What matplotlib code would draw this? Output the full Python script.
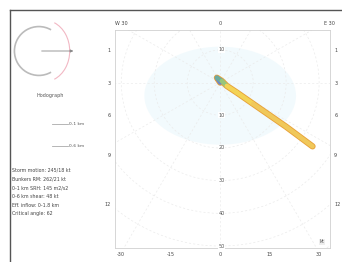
import numpy as np
import matplotlib
matplotlib.use("Agg")
import matplotlib.pyplot as plt
from matplotlib.collections import LineCollection
from matplotlib.patches import Circle, Arc, FancyArrowPatch, Ellipse

# ---- data ----
u_wind = [0.0, -1.0, 0.5, 2.0, 5.0, 10.0, 15.0, 20.0, 24.0, 28.0]
v_wind = [0.0, 1.5, 0.5, -1.0, -3.0, -6.5, -10.0, -13.5, -16.5, -19.5]
heights_km = [0, 0.5, 1, 1.5, 2, 3, 4, 6, 8, 10]
ring_values = [10, -10, -20, -30, -40, -50]
x_ticks = [-30, -15, 0, 15, 30]
x_tick_labels = ["-30", "-15", "0", "15", "30"]
top_ticks = [-30, 0, 33]
top_tick_labels = ["W 30", "0", "E 30"]
side_ticks = [10, 0, -10, -22, -37]
side_tick_labels = ["1", "3", "6", "9", "12"]
info_lines = [
    "Storm motion: 245/18 kt",
    "Bunkers RM: 262/21 kt",
    "0-1 km SRH: 145 m2/s2",
    "0-6 km shear: 48 kt",
    "Eff. inflow: 0-1.8 km",
    "Critical angle: 62",
]
legend_labels = ["0-1 km", "0-6 km"]

fig = plt.figure(figsize=(3.42, 2.62), dpi=100)
fig.patch.set_facecolor("white")

# background frame (left and top border lines)
bg = fig.add_axes([10/342, 0, 1 - 10/342, 252/262])
bg.set_xticks([]); bg.set_yticks([])
for s in ["right", "bottom"]:
    bg.spines[s].set_visible(False)
for s in ["left", "top"]:
    bg.spines[s].set_color("#555555")
    bg.spines[s].set_linewidth(1.0)
bg.set_zorder(-5)
bg.patch.set_alpha(0)

# ---- main hodograph axes ----
ax = fig.add_axes([115/342, 1 - 248/262, 215/342, 218/262])
ax.set_xlim(-31.9, 33.3)
ax.set_ylim(-50.6, 16.1)
ax.set_facecolor("white")
for s in ax.spines.values():
    s.set_color("#d0d0d0")
    s.set_linewidth(0.6)

# faint shaded region
ax.add_patch(Ellipse((0, -4), 46, 30, facecolor="#d6f0fa", edgecolor="none", alpha=0.3, zorder=0))
# range rings
for r in range(10, 90, 10):
    ax.add_patch(Circle((0, 0), r, facecolor="none", edgecolor="#ebebeb",
                        linewidth=0.5, linestyle=(0, (3, 3)), zorder=1))
# radial lines
for ang in range(0, 360, 30):
    a = np.deg2rad(ang)
    ax.plot([0, 90*np.cos(a)], [0, 90*np.sin(a)], color="#ebebeb",
            linewidth=0.5, linestyle=(0, (3, 3)), zorder=1)

# ring labels along the vertical through the center
for r in ring_values:
    ax.text(0.5, r, str(abs(r)), fontsize=3.5, color="#555555",
            ha="center", va="center", zorder=3,
            bbox=dict(facecolor="white", edgecolor="none", pad=0.3))

# trace coloured by height
pts = np.column_stack([u_wind, v_wind])
segs = np.stack([pts[:-1], pts[1:]], axis=1)
ax.plot(u_wind, v_wind, color="#e8a23a", linewidth=4.5, solid_capstyle="round", zorder=4)
cmap = matplotlib.colors.LinearSegmentedColormap.from_list(
    "h", ["#6f86c9", "#6cc08a", "#f3d356", "#f3d356", "#f0c85a"])
lc = LineCollection(segs, cmap=cmap, linewidths=3.2, zorder=5, capstyle="round")
lc.set_array(np.array(heights_km[:-1], dtype=float))
lc.set_clim(0, 3)
ax.add_collection(lc)

ax.set_xticks(x_ticks)
ax.set_xticklabels(x_tick_labels)
ax.set_yticks(side_ticks)
ax.set_yticklabels(side_tick_labels)
ax.tick_params(axis="both", labelsize=3.5, colors="#777777", length=0, pad=3,
               labelright=True, right=False)
for lab in ax.get_xticklabels() + ax.get_yticklabels():
    lab.set_color("#444444")

top = ax.secondary_xaxis("top")
top.set_xticks(top_ticks)
top.set_xticklabels(top_tick_labels)
top.tick_params(labelsize=3.5, length=0, pad=3, colors="#444444")
top.spines["top"].set_visible(False)

ax.text(31.5, -49.5, "kt", fontsize=3.5, color="#555555", ha="right", va="bottom",
        bbox=dict(facecolor="#eeeeee", edgecolor="none", pad=0.4))

# ---- left panel: small storm-motion diagram ----
ins = fig.add_axes([8/342, 1 - 90/262, 72/342, 78/262])
ins.set_xlim(-1.2, 1.6)
ins.set_ylim(-1.5, 1.5)
ins.set_aspect("equal")
ins.axis("off")
ins.add_patch(Arc((0, 0), 1.9, 1.9, theta1=60, theta2=300, color="#bbbbbb", linewidth=1.2))
ins.add_patch(Arc((0.2, 0), 2.0, 2.4, theta1=-70, theta2=70, color="#f2b8c4", linewidth=0.8))
ins.add_patch(FancyArrowPatch((0, 0), (1.45, 0), arrowstyle="-|>", mutation_scale=4,
                              color="#888888", linewidth=0.6))
fig.text(50/342, 1 - 95/262, "Hodograph", fontsize=3.5, color="#555555", ha="center", va="center")

# legend-like lines
for i, lab in enumerate(legend_labels):
    y = 1 - (124 + 22*i)/262
    fig.add_artist(matplotlib.lines.Line2D([52/342, 68/342], [y, y], color="#aaaaaa", linewidth=0.6))
    fig.text(69/342, y, lab, fontsize=3.2, color="#555555", ha="left", va="center")

# info text block
for i, line in enumerate(info_lines):
    fig.text(12/342, 1 - (170 + 8.8*i)/262, line, fontsize=3.4, color="#444444",
             ha="left", va="center")

fig.savefig("out.png", dpi=100, facecolor="white")
